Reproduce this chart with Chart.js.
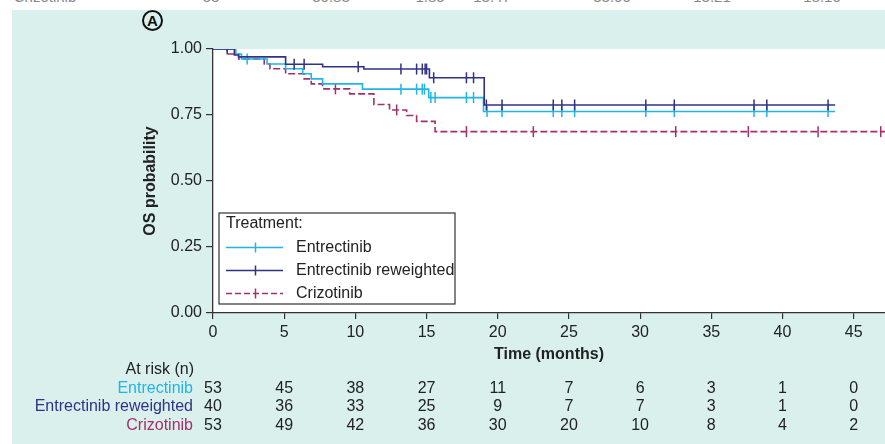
<!DOCTYPE html>
<html>
<head>
<meta charset="utf-8">
<script src="https://cdn.jsdelivr.net/npm/chart.js@4.4.0/dist/chart.umd.min.js"></script>
<style>
  body { margin: 0; background: #fff; font-family: "Liberation Sans", Arial, sans-serif; }
  #wrap { position: relative; width: 885px; height: 444px; overflow: hidden; }
  #panel { position: absolute; left: 12px; top: 10px; right: 0; bottom: 0; background: #daf0ec; }
  #strip { position: absolute; left: 0; top: 0; width: 885px; height: 10px; overflow: hidden; }
  #strip span { position: absolute; top: -12px; font-size: 15px; line-height: 17px; color: #888; transform: translateX(-50%); }
  #tag { position: absolute; left: 142px; top: 10px; width: 17px; height: 17px; border: 2px solid #111;
         border-radius: 50%; font-weight: bold; font-size: 15px; line-height: 18px; text-align: center; color: #111; }
  canvas { position: absolute; left: 0; top: 0; }
</style>
</head>
<body>
<div id="wrap">
  <div id="panel"></div>
  <div id="strip">
    <span style="left:45px">Crizotinib</span>
    <span style="left:211px">53</span>
    <span style="left:331px">30.83</span>
    <span style="left:430px">1.85</span>
    <span style="left:492px">13.47</span>
    <span style="left:612px">33.00</span>
    <span style="left:712px">13.21</span>
    <span style="left:822px">18.10</span>
  </div>
  <div id="tag">A</div>
  <canvas id="graph" width="885" height="444"></canvas>
</div>
<script>
const ctx = document.getElementById('graph');

// x axis ticks (months) and the at-risk table
const timeTicks = [0, 5, 10, 15, 20, 25, 30, 35, 40, 45];
const riskEnt = [53, 45, 38, 27, 11, 7, 6, 3, 1, 0];
const riskRew = [40, 36, 33, 25, 9, 7, 7, 3, 1, 0];
const riskCri = [53, 49, 42, 36, 30, 20, 10, 8, 4, 2];

// Kaplan-Meier steps (time, survival after the step)
const entTime = [0, 1.6, 2.0, 3.8, 5.1, 6.3, 6.9, 7.7, 10.5, 15.15, 19.0, 43.7];
const entSurv = [1, 0.981, 0.962, 0.943, 0.925, 0.906, 0.887, 0.868, 0.848, 0.816, 0.763, 0.763];
const entCens = [2.4, 13.2, 14.3, 14.7, 14.85, 15.3, 15.6, 17.8, 18.3, 19.25, 20.3, 23.9, 24.5, 25.4, 30.4, 32.4, 38.0, 38.9, 43.2];

const rewTime = [0, 1.5, 1.8, 5.1, 7.7, 10.6, 15.2, 19.05, 43.7];
const rewSurv = [1, 0.977, 0.97, 0.942, 0.933, 0.924, 0.891, 0.788, 0.788];
const rewCens = [1.0, 5.7, 6.4, 10.2, 13.2, 14.3, 14.7, 14.9, 15.0, 15.5, 17.8, 18.3, 19.2, 20.3, 23.9, 24.5, 25.4, 30.4, 32.4, 38.0, 38.9, 43.2];

const criTime = [0, 1.0, 1.8, 3.6, 4.0, 5.1, 6.4, 6.9, 7.7, 9.6, 11.3, 12.4, 13.6, 14.3, 15.6, 47.5];
const criSurv = [1, 0.981, 0.962, 0.943, 0.925, 0.906, 0.887, 0.868, 0.849, 0.83, 0.79, 0.769, 0.748, 0.726, 0.687, 0.687];
const criCens = [8.6, 12.9, 17.8, 22.5, 32.5, 37.6, 42.5, 46.9];

const colEnt = '#22b4e6';
const colRew = '#2f3286';
const colCri = '#a3306b';

function toXY(times, surv) {
  return times.map((t, i) => ({ x: t, y: surv[i] }));
}

// censor marks sit on the curve: look up the step value at that time
function censXY(cens, times, surv) {
  return cens.map(t => {
    let v = surv[0];
    times.forEach((tt, i) => { if (tt <= t) v = surv[i]; });
    return { x: t, y: v };
  });
}

function curve(label, times, surv, color, dash) {
  return {
    type: 'line', label: label, data: toXY(times, surv),
    borderColor: color, borderWidth: 1.6, borderDash: dash,
    stepped: true, pointRadius: 0, fill: false
  };
}

function marks(times, surv, cens, color) {
  return {
    type: 'scatter', data: censXY(cens, times, surv),
    pointStyle: 'line', pointRotation: 90, pointRadius: 5.5,
    pointBorderColor: color, pointBorderWidth: 1.5, pointHoverRadius: 5.5
  };
}

const legendItems = [
  { label: 'Entrectinib', color: colEnt, dash: [] },
  { label: 'Entrectinib reweighted', color: colRew, dash: [] },
  { label: 'Crizotinib', color: colCri, dash: [6, 3] }
];

const plotBg = {
  id: 'plotBg',
  beforeDraw(chart) {
    const a = chart.chartArea, c = chart.ctx;
    c.save();
    c.fillStyle = '#fff';
    c.fillRect(a.left, a.top, a.right - a.left, a.bottom - a.top);
    c.restore();
  }
};

const kmLegend = {
  id: 'kmLegend',
  afterDraw(chart) {
    const a = chart.chartArea, c = chart.ctx;
    const x0 = a.left + 6, y0 = a.bottom - 100, w = 236, h = 91;
    c.save();
    c.fillStyle = '#fff';
    c.fillRect(x0, y0, w, h);
    c.strokeStyle = '#333';
    c.lineWidth = 1.2;
    c.strokeRect(x0, y0, w, h);
    c.font = '16px "Liberation Sans", Arial, sans-serif';
    c.textBaseline = 'middle';
    c.fillStyle = '#222';
    c.fillText('Treatment:', x0 + 7, y0 + 11);
    legendItems.forEach((it, i) => {
      const y = y0 + 34.5 + i * 23;
      c.strokeStyle = it.color;
      c.lineWidth = 1.5;
      c.setLineDash(it.dash);
      c.beginPath(); c.moveTo(x0 + 7, y); c.lineTo(x0 + 64, y); c.stroke();
      c.setLineDash([]);
      c.beginPath(); c.moveTo(x0 + 36.5, y - 5); c.lineTo(x0 + 36.5, y + 5); c.stroke();
      c.fillStyle = '#222';
      c.fillText(it.label, x0 + 77, y);
    });
    c.restore();
  }
};

const riskTable = {
  id: 'riskTable',
  afterDraw(chart) {
    const c = chart.ctx, xs = chart.scales.x;
    const rows = [
      { label: 'Entrectinib', color: colEnt, vals: riskEnt, y: 388.5 },
      { label: 'Entrectinib reweighted', color: colRew, vals: riskRew, y: 407 },
      { label: 'Crizotinib', color: colCri, vals: riskCri, y: 426 }
    ];
    c.save();
    c.font = '16px "Liberation Sans", Arial, sans-serif';
    c.textBaseline = 'middle';
    c.textAlign = 'right';
    c.fillStyle = '#222';
    c.fillText('At risk (n)', 194, 370);
    rows.forEach(r => {
      c.textAlign = 'right';
      c.fillStyle = r.color;
      c.fillText(r.label, 193, r.y);
      c.textAlign = 'center';
      c.fillStyle = '#222';
      r.vals.forEach((v, i) => c.fillText(String(v), xs.getPixelForValue(timeTicks[i]), r.y));
    });
    c.restore();
  }
};

Chart.defaults.font.family = '"Liberation Sans", Arial, sans-serif';
Chart.defaults.font.size = 16;
Chart.defaults.color = '#222';

new Chart(ctx, {
  data: {
    datasets: [
      marks(rewTime, rewSurv, rewCens, colRew),
      curve('Entrectinib reweighted', rewTime, rewSurv, colRew, []),
      marks(entTime, entSurv, entCens, colEnt),
      curve('Entrectinib', entTime, entSurv, colEnt, []),
      marks(criTime, criSurv, criCens, colCri),
      curve('Crizotinib', criTime, criSurv, colCri, [7, 3])
    ]
  },
  options: {
    responsive: false,
    animation: false,
    layout: { autoPadding: false, padding: { left: 140, top: 49, right: 0, bottom: 0 } },
    plugins: { legend: { display: false }, tooltip: { enabled: false } },
    scales: {
      x: {
        type: 'linear', min: 0, max: 47.2,
        afterFit(scale) { scale.height = 131; scale.paddingLeft = 0; scale.paddingRight = 0; },
        ticks: { stepSize: 5, includeBounds: false, padding: 4, maxRotation: 0 },
        grid: { drawOnChartArea: false, tickLength: 6, color: '#333', lineWidth: 1.2 },
        border: { color: '#333', width: 1.3 },
        title: { display: true, text: 'Time (months)', font: { weight: 'bold', size: 16 }, padding: { top: 0, bottom: 80 } }
      },
      y: {
        min: 0, max: 1,
        afterFit(scale) { scale.width = 73; scale.paddingTop = 0; scale.paddingBottom = 0; },
        ticks: { stepSize: 0.25, padding: 4, callback: v => v.toFixed(2) },
        grid: { drawOnChartArea: false, tickLength: 7, color: '#333', lineWidth: 1.2 },
        border: { color: '#333', width: 1.3 },
        title: { display: true, text: 'OS probability', font: { weight: 'bold', size: 16 }, padding: { top: 1, bottom: 0 } }
      }
    }
  },
  plugins: [plotBg, kmLegend, riskTable]
});
</script>
</body>
</html>
